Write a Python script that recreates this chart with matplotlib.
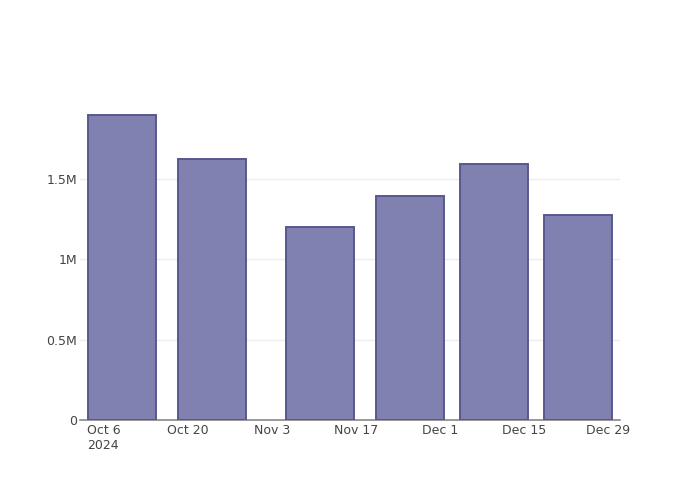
"""Weekly-ish totals bar chart, Oct-Dec 2024 (plotly-style look)."""

import matplotlib
matplotlib.use("Agg")
import matplotlib.pyplot as plt
import pandas as pd

# bar dates and values
dates = pd.to_datetime(["2024-10-09", "2024-10-24", "2024-11-11",
                        "2024-11-26", "2024-12-10", "2024-12-24"])
values = [1.894e6, 1.626e6, 1.199e6, 1.396e6, 1.589e6, 1.274e6]

tick_dates = pd.date_range("2024-10-06", "2024-12-29", freq="14D")
tick_labels = ["Oct 6\n2024", "Oct 20", "Nov 3", "Nov 17", "Dec 1", "Dec 15", "Dec 29"]
ytick_vals = [0, 0.5e6, 1.0e6, 1.5e6]
ytick_labels = ["0", "0.5M", "1M", "1.5M"]

plt.rcParams["font.family"] = ["DejaVu Sans"]

fig = plt.figure(figsize=(7, 5), dpi=100)
ax = fig.add_axes([80 / 700, 80 / 500, 540 / 700, 320 / 500])

ax.bar(
    dates,
    values,
    width=11.2,
    color="#7f7fb0",
    edgecolor="#56568f",
    linewidth=1.4,
    alpha=0.98,
    zorder=3,
)

ax.set_xlim(pd.Timestamp("2024-10-02"), pd.Timestamp("2024-12-31"))
ax.set_ylim(0, 1.99e6)

ax.set_xticks(tick_dates)
ax.set_xticklabels(tick_labels, multialignment="left")
ax.set_yticks(ytick_vals)
ax.set_yticklabels(ytick_labels)

ax.tick_params(axis="both", length=0, labelsize=9, labelcolor="#444444")
ax.tick_params(axis="x", pad=3)
ax.tick_params(axis="y", pad=2)

ax.grid(axis="y", color="#eeeeee", linewidth=1, zorder=0)
ax.set_axisbelow(True)

for side in ["top", "right", "left"]:
    ax.spines[side].set_visible(False)
ax.spines["bottom"].set_color("#888888")
ax.spines["bottom"].set_linewidth(1.2)

fig.savefig("out.png", dpi=100)
